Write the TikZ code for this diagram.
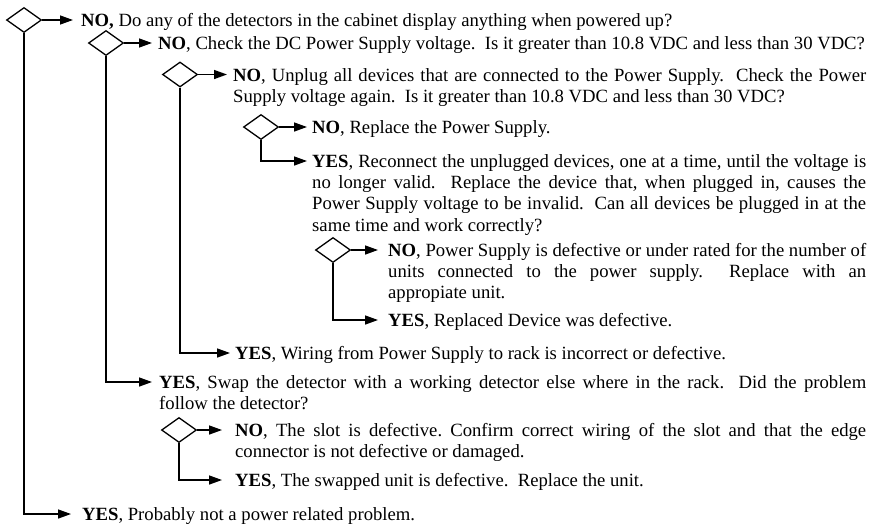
\documentclass[tikz,border=0pt]{standalone}
\usepackage{fontspec}
\setmainfont{Liberation Serif}
\usetikzlibrary{shapes.geometric,arrows.meta,calc}
\frenchspacing
\begin{document}
\begin{tikzpicture}[x=1pt,y=-1pt,
  dia/.style={draw, diamond, minimum width=35pt, minimum height=25pt, inner sep=0pt, line width=1.3pt},
  txt/.style={anchor=base west, inner sep=0pt, font=\fontsize{18.67}{21.2}\selectfont},
  arr/.style={line width=1.4pt, -{Triangle[length=13pt,width=9pt]}}]
\useasboundingbox (0,0) rectangle (875,523);
% diamonds
\node[dia] (d1) at (24,20) {};
\node[dia] (d2) at (106,43) {};
\node[dia] (d3) at (180,74.5) {};
\node[dia] (d4) at (261,127) {};
\node[dia] (d5) at (333,250) {};
\node[dia] (d6) at (179,430) {};
% texts
\node[txt] (t1) at (81,26.5) {\textbf{NO,} Do any of the detectors in the cabinet display anything when powered up?};
\node[txt] (t2) at (158,49.5) {\textbf{NO}, Check the DC Power Supply voltage.\ \ Is it greater than 10.8 VDC and less than 30 VDC?};
\node[txt] (t3) at (233,81) {\parbox[t]{633pt}{\hyphenpenalty=10000 \textbf{NO}, Unplug all devices that are connected to the Power Supply.\ \ Check the Power\linebreak Supply voltage again.\ \ Is it greater than 10.8 VDC and less than 30 VDC?}};
\node[txt] (t4) at (312,133.5) {\textbf{NO}, Replace the Power Supply.};
\node[txt] (t5) at (312,167.5) {\parbox[t]{554pt}{\hyphenpenalty=10000 \textbf{YES}, Reconnect the unplugged devices, one at a time, until the voltage is\linebreak no longer valid.\ \ Replace the device that, when plugged in, causes the\linebreak Power Supply voltage to be invalid.\ \ Can all devices be plugged in at the\linebreak same time and work correctly?}};
\node[txt] (t6) at (388,256.5) {\parbox[t]{478pt}{\hyphenpenalty=10000 \textbf{NO}, Power Supply is defective or under rated for the number of\linebreak units connected to the power supply.\ \ Replace with an\linebreak appropiate unit.}};
\node[txt] (t7) at (388,326.5) {\textbf{YES}, Replaced Device was defective.};
\node[txt] (t8) at (235,359.5) {\textbf{YES}, Wiring from Power Supply to rack is incorrect or defective.};
\node[txt] (t9) at (159,388.5) {\parbox[t]{707pt}{\hyphenpenalty=10000 \textbf{YES}, Swap the detector with a working detector else where in the rack.\ \ Did the problem\linebreak follow the detector?}};
\node[txt] (t10) at (235,436.5) {\parbox[t]{631pt}{\hyphenpenalty=10000 \textbf{NO}, The slot is defective. Confirm correct wiring of the slot and that the edge\linebreak connector is not defective or damaged.}};
\node[txt] (t11) at (235,486.5) {\textbf{YES}, The swapped unit is defective.\ \ Replace the unit.};
\node[txt] (t12) at (82,520.5) {\textbf{YES}, Probably not a power related problem.};
% NO arrows
\draw[arr, shorten >=8pt] (d1.east) -- (d1.east -| t1.west);
\draw[arr, shorten >=6pt] (d2.east) -- (d2.east -| t2.west);
\draw[arr, shorten >=6pt] (d3.east) -- (d3.east -| t3.west);
\draw[arr, shorten >=5pt] (d4.east) -- (d4.east -| t4.west);
\draw[arr, shorten >=10pt] (d5.east) -- (d5.east -| t6.west);
\draw[arr, shorten >=13pt] (d6.east) -- (d6.east -| t10.west);
% YES arrows
\draw[arr, shorten >=5pt] (d4.south) |- ([yshift=6.5pt]t5.base west);
\draw[arr, shorten >=10pt] (d5.south) |- ([yshift=6.5pt]t7.base west);
\draw[arr, shorten >=5pt] (d3.south) |- ([yshift=6.5pt]t8.base west);
\draw[arr, shorten >=7pt] (d2.south) |- ([yshift=6.5pt]t9.base west);
\draw[arr, shorten >=13pt] (d6.south) |- ([yshift=6.5pt]t11.base west);
\draw[arr, shorten >=11pt] (d1.south) |- ([yshift=6.5pt]t12.base west);
\end{tikzpicture}
\end{document}
